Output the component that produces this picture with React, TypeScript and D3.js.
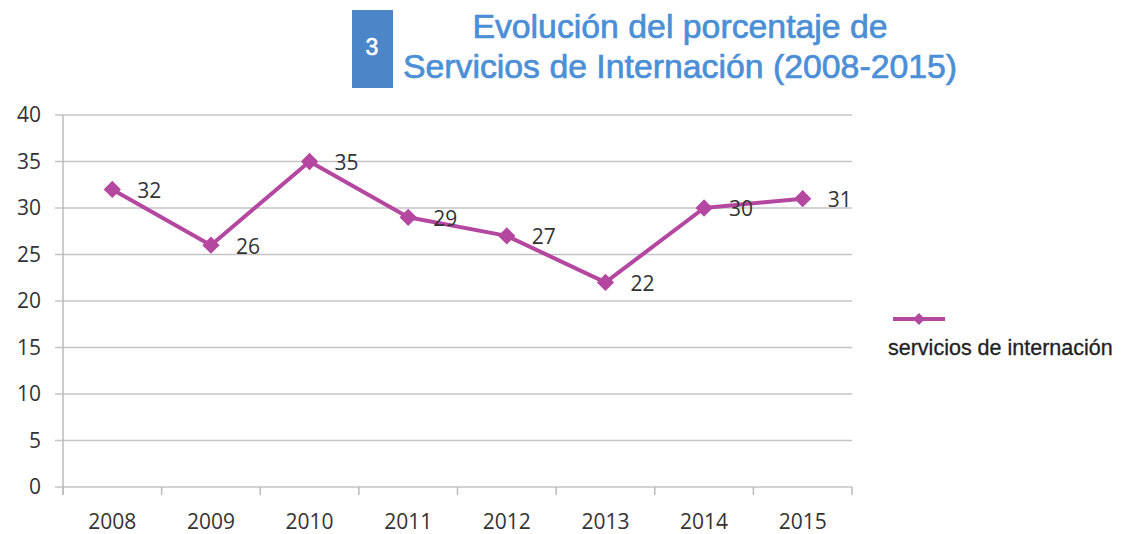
import React from "react";
import * as d3 from "d3";

const years = ["2008", "2009", "2010", "2011", "2012", "2013", "2014", "2015"];
const values = [32, 26, 35, 29, 27, 22, 30, 31];
const yTicks = [0, 5, 10, 15, 20, 25, 30, 35, 40];
const seriesName = "servicios de internación";
const titleLines = ["Evolución del porcentaje de", "Servicios de Internación (2008-2015)"];
const badge = "3";

const W = 1121;
const H = 534;
const left = 63;
const right = 852;
const top = 115;
const bottom = 487;
const lineColor = "#b4479f";
const titleColor = "#4b8fd6";
const numFont = "Open Sans, Liberation Sans";

export default function App() {
  const x = d3.scaleBand<string>().domain(years).range([left, right]);
  const y = d3.scaleLinear().domain([0, 40]).range([bottom, top]);
  const cx = (yr: string) => (x(yr) as number) + x.bandwidth() / 2;
  const line = d3
    .line<number>()
    .x((_, i) => cx(years[i]))
    .y((d) => y(d));
  const diamond = d3.symbol().type(d3.symbolDiamond2).size(190)();
  const tickXs = [...years.map((yr) => x(yr) as number), right];

  return (
    <svg width={W} height={H} style={{ position: "absolute", left: 0, top: 0, background: "#fff" }}>
      <rect x={352} y={10} width={41} height={78} fill="#4a86c8" />
      <text x={372} y={55} textAnchor="middle" fill="#fff" fontFamily="Liberation Sans, Arial" fontSize={23} stroke="#fff" strokeWidth={0.6}>
        {badge}
      </text>
      {titleLines.map((t, i) => (
        <text
          key={i}
          x={680}
          y={38 + i * 40}
          textAnchor="middle"
          fill={titleColor}
          stroke={titleColor}
          strokeWidth={0.7}
          fontFamily="Liberation Sans, Arial"
          fontSize={33.8}
        >
          {t}
        </text>
      ))}
      {yTicks.map((t) => (
        <g key={t}>
          <line x1={55} x2={right} y1={y(t)} y2={y(t)} stroke="#c4c4c4" strokeWidth={1.5} />
          <text
            x={41}
            y={y(t)}
            dy="0.35em"
            textAnchor="end"
            fill="#333"
            fontFamily={numFont}
            fontSize={21}
          >
            {t}
          </text>
        </g>
      ))}
      <line x1={left} x2={left} y1={top} y2={bottom + 8} stroke="#bbb" strokeWidth={1.5} />
      {tickXs.map((tx, i) => (
        <line key={i} x1={tx} x2={tx} y1={bottom} y2={bottom + 8} stroke="#bbb" strokeWidth={1.5} />
      ))}
      {years.map((yr) => (
        <text
          key={yr}
          x={cx(yr)}
          y={529}
          textAnchor="middle"
          fill="#333"
          fontFamily={numFont}
          fontSize={21}
        >
          {yr}
        </text>
      ))}
      <path d={line(values) || ""} fill="none" stroke={lineColor} strokeWidth={4} strokeLinejoin="round" />
      {values.map((v, i) => (
        <g key={i}>
          <path d={diamond || ""} transform={`translate(${cx(years[i])},${y(v)})`} fill={lineColor} />
          <text
            x={cx(years[i]) + 25}
            y={y(v)}
            dy="0.4em"
            fill="#333"
            fontFamily={numFont}
            fontSize={21}
          >
            {v}
          </text>
        </g>
      ))}
      <line x1={893} x2={945} y1={319} y2={319} stroke={lineColor} strokeWidth={4} />
      <path d={diamond || ""} transform="translate(919,319) scale(0.7)" fill={lineColor} />
      <text
        x={888}
        y={355}
        fill="#222"
        stroke="#222"
        strokeWidth={0.3}
        fontFamily="Liberation Sans Narrow, Liberation Sans"
        fontSize={21.5}
      >
        {seriesName}
      </text>
    </svg>
  );
}
